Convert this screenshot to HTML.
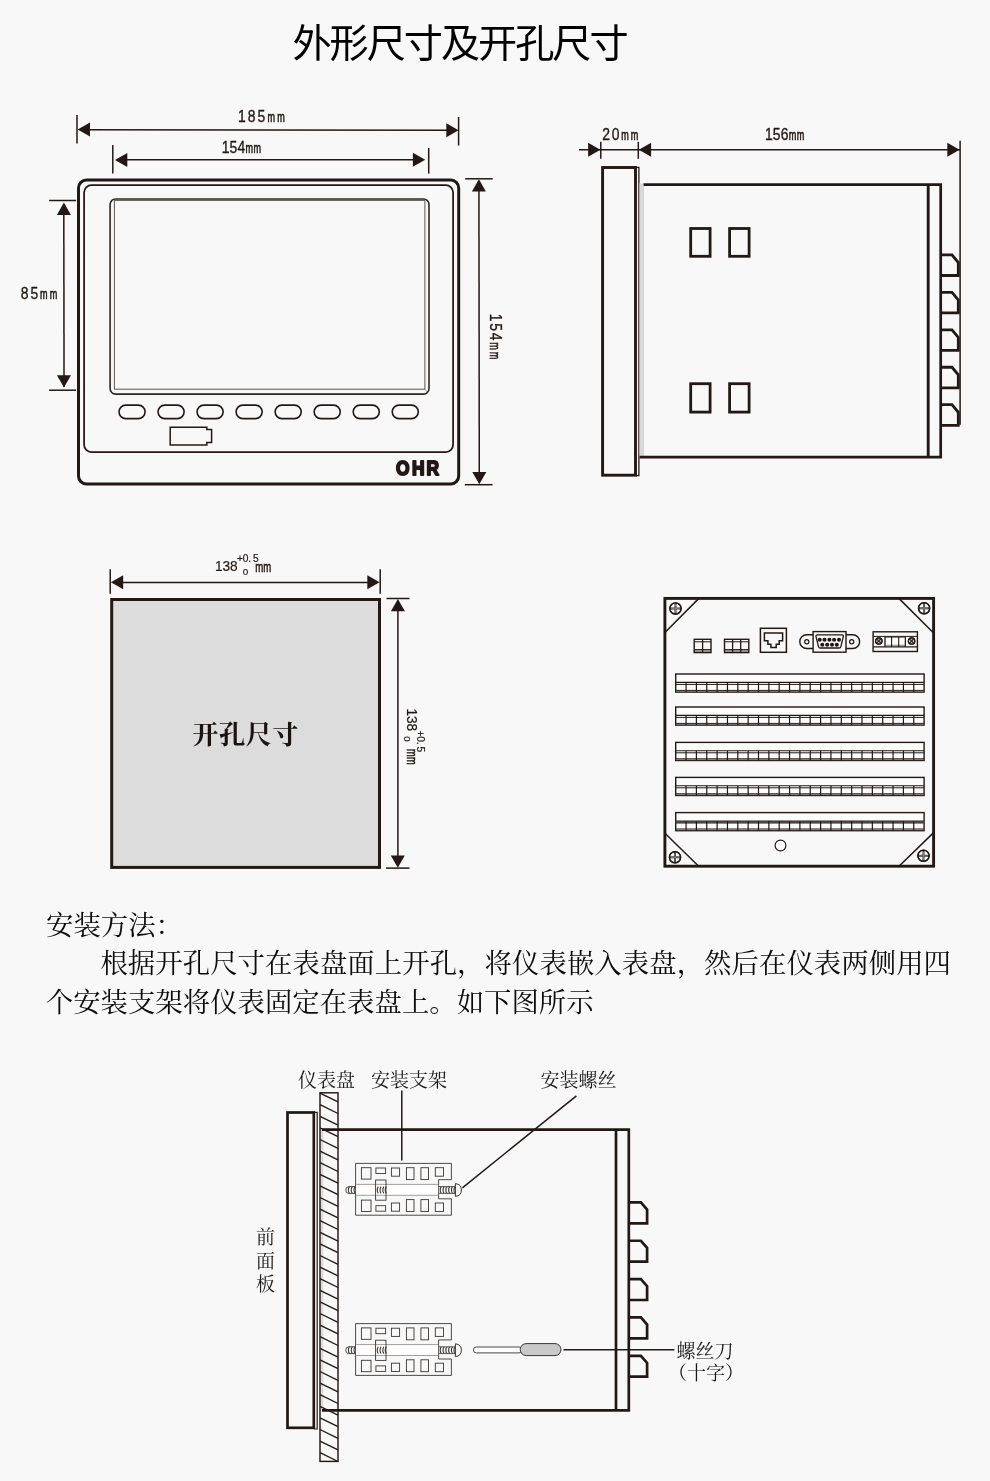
<!DOCTYPE html>
<html lang="zh-CN">
<head>
<meta charset="utf-8">
<title>外形尺寸及开孔尺寸</title>
<style>
html,body{margin:0;padding:0;background:#f8f8f8;}
body{width:990px;height:1481px;overflow:hidden;}
svg{display:block;will-change:transform;}
text{white-space:pre;}
</style>
</head>
<body>
<svg width="990" height="1481" viewBox="0 0 990 1481">
<rect x="0" y="0" width="990" height="1481" fill="#f8f8f8"/>
<text x="292.4" y="57.3" font-family="'Liberation Sans', 'Noto Sans CJK SC', sans-serif" font-size="39.2" font-weight="400" text-anchor="start" fill="#000" letter-spacing="-2.05" id="title">外形尺寸及开孔尺寸</text>
<line x1="77" y1="115" x2="77" y2="143.5" stroke="#231815" stroke-width="1.5"/>
<line x1="458.6" y1="117" x2="458.6" y2="145.5" stroke="#231815" stroke-width="1.5"/>
<line x1="80" y1="129.8" x2="456" y2="130.2" stroke="#231815" stroke-width="1.5"/>
<path d="M77.7 129.6 L90 122.6 L90 136.6 Z" fill="#231815" stroke="none"/>
<path d="M458.6 130.2 L446.3 123.2 L446.3 137.2 Z" fill="#231815" stroke="none"/>
<g transform="translate(261.4,122.1)" font-family="'Liberation Sans', sans-serif" text-anchor="middle" fill="#231815" stroke="#231815"><text transform="scale(0.88,1)" x="-22.16 -11.08 0" y="0" font-size="15.8" stroke-width="0.35">185</text><text transform="scale(0.62,1)" x="15.73 31.45" y="0" font-size="14.6" stroke-width="0.65">mm</text></g>
<line x1="112.8" y1="145" x2="112.8" y2="173.6" stroke="#231815" stroke-width="1.5"/>
<line x1="428.7" y1="148" x2="428.7" y2="173.6" stroke="#231815" stroke-width="1.5"/>
<line x1="117" y1="159.8" x2="423" y2="159.8" stroke="#231815" stroke-width="1.5"/>
<path d="M115 159.9 L127.3 152.9 L127.3 166.9 Z" fill="#231815" stroke="none"/>
<path d="M425.2 159.8 L412.9 152.8 L412.9 166.8 Z" fill="#231815" stroke="none"/>
<g transform="translate(241.4,152.7)" font-family="'Liberation Sans', sans-serif" text-anchor="middle" fill="#231815" stroke="#231815"><text transform="scale(0.88,1)" x="-18.07 -9.03 0" y="0" font-size="15.8" stroke-width="0.35">154</text><text transform="scale(0.62,1)" x="12.82 25.65" y="0" font-size="14.6" stroke-width="0.65">mm</text></g>
<rect x="78.5" y="180" width="380.2" height="304" rx="8" fill="none" stroke="#231815" stroke-width="3"/>
<rect x="84.1" y="185.2" width="369" height="266.8" rx="7.3" fill="none" stroke="#231815" stroke-width="1.75"/>
<rect x="110.1" y="199" width="318.9" height="195.1" rx="5.5" fill="none" stroke="#2e2623" stroke-width="1.6"/>
<path d="M114.4 200.4 L424.9 200.4 L424.9 389.2 L114.4 389.2 Z" fill="none" stroke="#4a4340" stroke-width="0.9" stroke-linejoin="miter"/>
<line x1="424.9" y1="389.2" x2="427.6" y2="392.4" stroke="#6a6360" stroke-width="0.7"/>
<rect x="119" y="405.1" width="26.1" height="13.5" rx="6.75" fill="none" stroke="#231815" stroke-width="1.6"/>
<rect x="158.03" y="405.1" width="26.1" height="13.5" rx="6.75" fill="none" stroke="#231815" stroke-width="1.6"/>
<rect x="197.06" y="405.1" width="26.1" height="13.5" rx="6.75" fill="none" stroke="#231815" stroke-width="1.6"/>
<rect x="236.09" y="405.1" width="26.1" height="13.5" rx="6.75" fill="none" stroke="#231815" stroke-width="1.6"/>
<rect x="275.12" y="405.1" width="26.1" height="13.5" rx="6.75" fill="none" stroke="#231815" stroke-width="1.6"/>
<rect x="314.15" y="405.1" width="26.1" height="13.5" rx="6.75" fill="none" stroke="#231815" stroke-width="1.6"/>
<rect x="353.18" y="405.1" width="26.1" height="13.5" rx="6.75" fill="none" stroke="#231815" stroke-width="1.6"/>
<rect x="392.21" y="405.1" width="26.1" height="13.5" rx="6.75" fill="none" stroke="#231815" stroke-width="1.6"/>
<path d="M170.2 427.2 L206.8 427.2 L206.8 429.4 L211.6 429.4 L211.6 442.6 L206.8 442.6 L206.8 445 L170.2 445 Z" fill="none" stroke="#231815" stroke-width="1.5" stroke-linejoin="miter"/>
<text transform="translate(417.3,475.3) scale(0.86,1)" x="-17 1.2 17.9" y="0" font-family="'Liberation Sans', sans-serif" font-size="20.2" font-weight="700" text-anchor="middle" fill="#231815" stroke="#231815" stroke-width="2" stroke-linejoin="round" id="ohr">OHR</text>
<line x1="49.1" y1="200.5" x2="76.1" y2="200.5" stroke="#231815" stroke-width="1.5"/>
<line x1="49.1" y1="390.2" x2="76.1" y2="390.2" stroke="#231815" stroke-width="1.5"/>
<line x1="63.8" y1="204" x2="64.05" y2="387" stroke="#231815" stroke-width="1.5"/>
<path d="M63.9 202.6 L56.9 214.9 L70.9 214.9 Z" fill="#231815" stroke="none"/>
<path d="M63.95 387.6 L56.95 375.3 L70.95 375.3 Z" fill="#231815" stroke="none"/>
<g transform="translate(39.1,298.5)" font-family="'Liberation Sans', sans-serif" text-anchor="middle" fill="#231815" stroke="#231815"><text transform="scale(0.88,1)" x="-16.36 -5.45" y="0" font-size="15.8" stroke-width="0.35">85</text><text transform="scale(0.62,1)" x="7.74 23.23" y="0" font-size="14.6" stroke-width="0.65">mm</text></g>
<line x1="465.2" y1="178.8" x2="492.7" y2="178.8" stroke="#231815" stroke-width="1.5"/>
<line x1="464.8" y1="484.7" x2="492.5" y2="484.7" stroke="#231815" stroke-width="1.5"/>
<line x1="478.9" y1="182" x2="479.3" y2="481" stroke="#231815" stroke-width="1.5"/>
<path d="M478.9 179.3 L471.9 191.6 L485.9 191.6 Z" fill="#231815" stroke="none"/>
<path d="M479.3 484.3 L472.3 472 L486.3 472 Z" fill="#231815" stroke="none"/>
<g transform="translate(489.6,336.6) rotate(90)" font-family="'Liberation Sans', sans-serif" text-anchor="middle" fill="#231815" stroke="#231815"><text transform="scale(0.88,1)" x="-21.59 -10.8 0" y="0" font-size="15.8" stroke-width="0.35">154</text><text transform="scale(0.62,1)" x="15.32 30.65" y="0" font-size="14.6" stroke-width="0.65">mm</text></g>
<line x1="579" y1="149.7" x2="960" y2="149.7" stroke="#231815" stroke-width="1.5"/>
<line x1="600.8" y1="141.8" x2="600.8" y2="158.8" stroke="#231815" stroke-width="1.5"/>
<line x1="638.3" y1="141.8" x2="638.3" y2="158.8" stroke="#231815" stroke-width="1.5"/>
<line x1="960.1" y1="140.8" x2="960.1" y2="424.7" stroke="#231815" stroke-width="1.5"/>
<path d="M600.4 149.7 L588.1 142.7 L588.1 156.7 Z" fill="#231815" stroke="none"/>
<path d="M638.8 149.7 L651.1 142.7 L651.1 156.7 Z" fill="#231815" stroke="none"/>
<path d="M959.6 149.7 L947.3 142.7 L947.3 156.7 Z" fill="#231815" stroke="none"/>
<g transform="translate(620.3,139.8)" font-family="'Liberation Sans', sans-serif" text-anchor="middle" fill="#231815" stroke="#231815"><text transform="scale(0.88,1)" x="-16.02 -5.34" y="0" font-size="15.8" stroke-width="0.35">20</text><text transform="scale(0.62,1)" x="7.58 22.74" y="0" font-size="14.6" stroke-width="0.65">mm</text></g>
<g transform="translate(784.6,140.3)" font-family="'Liberation Sans', sans-serif" text-anchor="middle" fill="#231815" stroke="#231815"><text transform="scale(0.88,1)" x="-17.95 -8.98 0" y="0" font-size="15.8" stroke-width="0.35">156</text><text transform="scale(0.62,1)" x="12.74 25.48" y="0" font-size="14.6" stroke-width="0.65">mm</text></g>
<rect x="602.6" y="167.5" width="32.9" height="307.7" fill="none" stroke="#231815" stroke-width="2.9"/>
<path d="M636 167.4 L638.9 167.4 L638.9 475.7 L636 475.7" fill="none" stroke="#231815" stroke-width="1.3" stroke-linejoin="miter"/>
<rect x="639.5" y="183.4" width="4.6" height="273" fill="#d8d8d8"/>
<path d="M643.6 184.7 L940.7 184.7 L940.7 457.2 L639.6 457.2" fill="none" stroke="#231815" stroke-width="2.7" stroke-linejoin="miter"/>
<line x1="928.2" y1="184.7" x2="928.2" y2="457.2" stroke="#231815" stroke-width="2.9"/>
<rect x="690.7" y="228.5" width="19.4" height="27.8" fill="none" stroke="#231815" stroke-width="2.8"/>
<rect x="690.7" y="383.7" width="19.4" height="28.4" fill="none" stroke="#231815" stroke-width="2.8"/>
<rect x="729.6" y="228.5" width="19.5" height="27.8" fill="none" stroke="#231815" stroke-width="2.8"/>
<rect x="729.6" y="383.7" width="19.5" height="28.4" fill="none" stroke="#231815" stroke-width="2.8"/>
<path d="M940.7 254.9 L952 254.9 L958.3 262.5 L958.3 275.5 L940.7 275.5" fill="none" stroke="#231815" stroke-width="2.8" stroke-linejoin="miter"/>
<path d="M940.7 292.35 L952 292.35 L958.3 299.95 L958.3 312.95 L940.7 312.95" fill="none" stroke="#231815" stroke-width="2.8" stroke-linejoin="miter"/>
<path d="M940.7 329.8 L952 329.8 L958.3 337.4 L958.3 350.4 L940.7 350.4" fill="none" stroke="#231815" stroke-width="2.8" stroke-linejoin="miter"/>
<path d="M940.7 367.25 L952 367.25 L958.3 374.85 L958.3 387.85 L940.7 387.85" fill="none" stroke="#231815" stroke-width="2.8" stroke-linejoin="miter"/>
<path d="M940.7 404.7 L952 404.7 L958.3 412.3 L958.3 425.3 L940.7 425.3" fill="none" stroke="#231815" stroke-width="2.8" stroke-linejoin="miter"/>
<rect x="111.7" y="599.5" width="267.8" height="267.9" fill="#dcdcdc" stroke="#231815" stroke-width="3"/>
<line x1="110.2" y1="569.3" x2="110.2" y2="593.8" stroke="#231815" stroke-width="1.5"/>
<line x1="380.2" y1="569.3" x2="380.2" y2="593.8" stroke="#231815" stroke-width="1.5"/>
<line x1="113" y1="582.6" x2="377" y2="582.6" stroke="#231815" stroke-width="1.5"/>
<path d="M110.9 582.3 L123.2 575.3 L123.2 589.3 Z" fill="#231815" stroke="none"/>
<path d="M379.6 582.3 L367.3 575.3 L367.3 589.3 Z" fill="#231815" stroke="none"/>
<text x="245.6" y="743.8" font-family="'Liberation Serif', 'Noto Serif CJK SC', serif" font-size="26.3" font-weight="700" text-anchor="middle" fill="#1a1311" letter-spacing="0.4" id="kk">开孔尺寸</text>
<g transform="translate(215.8,571.4)" font-family="'Liberation Sans', sans-serif" fill="#231815" stroke="#231815" stroke-width="0.2"><text transform="scale(0.9,1)" x="-1" y="0" font-size="15.2">138</text><text x="24.1 29.9 33.8 40.1" y="-9.7" font-size="10.2" text-anchor="middle">+0.5</text><text x="29.7" y="3.3" font-size="9.8" text-anchor="middle">0</text><text transform="scale(0.62,1)" x="70 82.9" y="0.5" font-size="15.5" text-anchor="middle" stroke-width="0.6">mm</text></g>
<line x1="386.5" y1="598.5" x2="409.5" y2="598.5" stroke="#231815" stroke-width="1.5"/>
<line x1="386" y1="868.1" x2="409.5" y2="868.1" stroke="#231815" stroke-width="1.5"/>
<line x1="397.9" y1="602" x2="397.9" y2="864" stroke="#231815" stroke-width="1.5"/>
<path d="M397.9 598.9 L390.9 611.2 L404.9 611.2 Z" fill="#231815" stroke="none"/>
<path d="M397.8 867.7 L390.8 855.4 L404.8 855.4 Z" fill="#231815" stroke="none"/>
<g transform="translate(407.1,709.3) rotate(90)" font-family="'Liberation Sans', sans-serif" fill="#231815" stroke="#231815" stroke-width="0.2"><text transform="scale(0.9,1)" x="-1" y="0" font-size="15.2">138</text><text x="24.1 29.9 33.8 40.1" y="-9.7" font-size="10.2" text-anchor="middle">+0.5</text><text x="29.7" y="3.3" font-size="9.8" text-anchor="middle">0</text><text transform="scale(0.62,1)" x="70 82.9" y="0.5" font-size="15.5" text-anchor="middle" stroke-width="0.6">mm</text></g>
<rect x="664.9" y="598.4" width="268.7" height="267.8" fill="none" stroke="#231815" stroke-width="2.9"/>
<line x1="698.9" y1="598.4" x2="665.2" y2="632.2" stroke="#231815" stroke-width="1.5"/>
<line x1="898.9" y1="598.4" x2="933.6" y2="633" stroke="#231815" stroke-width="1.5"/>
<line x1="665.2" y1="833.5" x2="698.7" y2="866.2" stroke="#231815" stroke-width="1.5"/>
<line x1="933.6" y1="832.6" x2="899" y2="866.2" stroke="#231815" stroke-width="1.5"/>
<circle cx="675.5" cy="608.5" r="5.6" fill="none" stroke="#231815" stroke-width="1.3"/>
<line x1="669.9" y1="608.5" x2="681.1" y2="608.5" stroke="#3a3532" stroke-width="2"/>
<line x1="675.5" y1="602.9" x2="675.5" y2="614.1" stroke="#3a3532" stroke-width="2"/>
<line x1="671.1" y1="608.5" x2="679.9" y2="608.5" stroke="#c4c4c4" stroke-width="0.45"/>
<line x1="675.5" y1="604.1" x2="675.5" y2="612.9" stroke="#c4c4c4" stroke-width="0.45"/>
<circle cx="675.5" cy="608.5" r="5.6" fill="none" stroke="#231815" stroke-width="1.4"/>
<circle cx="924.1" cy="608.3" r="5.6" fill="none" stroke="#231815" stroke-width="1.3"/>
<line x1="918.5" y1="608.3" x2="929.7" y2="608.3" stroke="#3a3532" stroke-width="2"/>
<line x1="924.1" y1="602.7" x2="924.1" y2="613.9" stroke="#3a3532" stroke-width="2"/>
<line x1="919.7" y1="608.3" x2="928.5" y2="608.3" stroke="#c4c4c4" stroke-width="0.45"/>
<line x1="924.1" y1="603.9" x2="924.1" y2="612.7" stroke="#c4c4c4" stroke-width="0.45"/>
<circle cx="924.1" cy="608.3" r="5.6" fill="none" stroke="#231815" stroke-width="1.4"/>
<circle cx="675" cy="857.3" r="5.6" fill="none" stroke="#231815" stroke-width="1.3"/>
<line x1="669.4" y1="857.3" x2="680.6" y2="857.3" stroke="#3a3532" stroke-width="2"/>
<line x1="675" y1="851.7" x2="675" y2="862.9" stroke="#3a3532" stroke-width="2"/>
<line x1="670.6" y1="857.3" x2="679.4" y2="857.3" stroke="#c4c4c4" stroke-width="0.45"/>
<line x1="675" y1="852.9" x2="675" y2="861.7" stroke="#c4c4c4" stroke-width="0.45"/>
<circle cx="675" cy="857.3" r="5.6" fill="none" stroke="#231815" stroke-width="1.4"/>
<circle cx="923.5" cy="855.8" r="5.6" fill="none" stroke="#231815" stroke-width="1.3"/>
<line x1="917.9" y1="855.8" x2="929.1" y2="855.8" stroke="#3a3532" stroke-width="2"/>
<line x1="923.5" y1="850.2" x2="923.5" y2="861.4" stroke="#3a3532" stroke-width="2"/>
<line x1="919.1" y1="855.8" x2="927.9" y2="855.8" stroke="#c4c4c4" stroke-width="0.45"/>
<line x1="923.5" y1="851.4" x2="923.5" y2="860.2" stroke="#c4c4c4" stroke-width="0.45"/>
<circle cx="923.5" cy="855.8" r="5.6" fill="none" stroke="#231815" stroke-width="1.4"/>
<rect x="694.2" y="649.6" width="16.8" height="3" fill="#a09b99"/>
<rect x="694.2" y="639.3" width="16.8" height="13.3" fill="none" stroke="#231815" stroke-width="1.4"/>
<line x1="694.2" y1="641.8" x2="711" y2="641.8" stroke="#231815" stroke-width="1.0"/>
<line x1="694.2" y1="649.6" x2="711" y2="649.6" stroke="#231815" stroke-width="1.0"/>
<line x1="702.6" y1="639.3" x2="702.6" y2="652.6" stroke="#231815" stroke-width="1.3"/>
<rect x="724.5" y="649.6" width="24.3" height="3" fill="#a09b99"/>
<rect x="724.5" y="639.3" width="24.3" height="13.3" fill="none" stroke="#231815" stroke-width="1.4"/>
<line x1="724.5" y1="641.8" x2="748.8" y2="641.8" stroke="#231815" stroke-width="1.0"/>
<line x1="724.5" y1="649.6" x2="748.8" y2="649.6" stroke="#231815" stroke-width="1.0"/>
<line x1="732.6" y1="639.3" x2="732.6" y2="652.6" stroke="#231815" stroke-width="1.3"/>
<line x1="740.7" y1="639.3" x2="740.7" y2="652.6" stroke="#231815" stroke-width="1.3"/>
<rect x="760.4" y="628.3" width="26" height="24" fill="none" stroke="#231815" stroke-width="1.5"/>
<path d="M764.4 632.9 L782.6 632.9 L782.6 640.8 L779.2 640.8 L779.2 644.2 L776.2 644.2 L776.2 647.6 L770.9 647.6 L770.9 644.2 L767.9 644.2 L767.9 640.8 L764.4 640.8 Z" fill="none" stroke="#231815" stroke-width="1.5" stroke-linejoin="miter"/>
<rect x="799.8" y="634.8" width="59.8" height="13.7" rx="6.85" fill="none" stroke="#231815" stroke-width="1.4"/>
<rect x="813.1" y="631.6" width="32.9" height="20.6" fill="#f8f8f8" stroke="#231815" stroke-width="1.4"/>
<path d="M817.4 634.9 L841.9 634.9 Q843.7 634.9 843.3 636.6 L840.9 646.6 Q840.5 648 839.1 648 L820.3 648 Q818.9 648 818.5 646.6 L816 636.6 Q815.6 634.9 817.4 634.9 Z" fill="none" stroke="#231815" stroke-width="1.3"/>
<circle cx="819.7" cy="639.7" r="2.05" fill="#231815"/>
<circle cx="824.5" cy="639.7" r="2.05" fill="#231815"/>
<circle cx="829.4" cy="639.7" r="2.05" fill="#231815"/>
<circle cx="834.1" cy="639.7" r="2.05" fill="#231815"/>
<circle cx="839" cy="639.7" r="2.05" fill="#231815"/>
<circle cx="822.3" cy="644.7" r="2.05" fill="#231815"/>
<circle cx="827.2" cy="644.7" r="2.05" fill="#231815"/>
<circle cx="832" cy="644.7" r="2.05" fill="#231815"/>
<circle cx="836.8" cy="644.7" r="2.05" fill="#231815"/>
<circle cx="806.8" cy="641.7" r="2.1" fill="none" stroke="#231815" stroke-width="1.2"/>
<circle cx="851.7" cy="641.7" r="2.1" fill="none" stroke="#231815" stroke-width="1.2"/>
<rect x="873.1" y="631.8" width="44.3" height="19.7" fill="none" stroke="#231815" stroke-width="1.4"/>
<line x1="873.1" y1="636.4" x2="917.4" y2="636.4" stroke="#231815" stroke-width="1.0"/>
<line x1="873.1" y1="646.9" x2="917.4" y2="646.9" stroke="#231815" stroke-width="1.4"/>
<rect x="885" y="637.6" width="20.3" height="7.6" fill="#fff" stroke="#6a6562" stroke-width="0.8"/>
<line x1="885" y1="636.4" x2="885" y2="646.9" stroke="#231815" stroke-width="1.1"/>
<line x1="891.6" y1="636.4" x2="891.6" y2="646.9" stroke="#231815" stroke-width="1.1"/>
<line x1="898.7" y1="636.4" x2="898.7" y2="646.9" stroke="#231815" stroke-width="1.1"/>
<line x1="905.3" y1="636.4" x2="905.3" y2="646.9" stroke="#231815" stroke-width="1.1"/>
<circle cx="878.8" cy="641" r="3.2" fill="#e8e8e8" stroke="#231815" stroke-width="1.2"/>
<line x1="876.6" y1="638.8" x2="881" y2="643.2" stroke="#3a3532" stroke-width="1.5"/>
<line x1="876.6" y1="643.2" x2="881" y2="638.8" stroke="#3a3532" stroke-width="1.5"/>
<circle cx="878.8" cy="641" r="3.2" fill="none" stroke="#231815" stroke-width="1.2"/>
<circle cx="911.6" cy="641" r="3.2" fill="#e8e8e8" stroke="#231815" stroke-width="1.2"/>
<line x1="909.4" y1="638.8" x2="913.8" y2="643.2" stroke="#3a3532" stroke-width="1.5"/>
<line x1="909.4" y1="643.2" x2="913.8" y2="638.8" stroke="#3a3532" stroke-width="1.5"/>
<circle cx="911.6" cy="641" r="3.2" fill="none" stroke="#231815" stroke-width="1.2"/>
<rect x="675.7" y="674" width="248.4" height="18.1" fill="#fcfcfc" stroke="#231815" stroke-width="1.4"/>
<line x1="675.7" y1="682.4" x2="924.1" y2="682.4" stroke="#231815" stroke-width="1.1"/>
<line x1="675.7" y1="684.4" x2="924.1" y2="684.4" stroke="#231815" stroke-width="1"/>
<line x1="675.7" y1="690.4" x2="924.1" y2="690.4" stroke="#231815" stroke-width="1"/>
<line x1="675.7" y1="691.3" x2="924.1" y2="691.3" stroke="#6a6562" stroke-width="0.8"/>
<line x1="686.05" y1="682.4" x2="686.05" y2="692.1" stroke="#231815" stroke-width="1.2"/>
<line x1="696.4" y1="682.4" x2="696.4" y2="692.1" stroke="#231815" stroke-width="1.2"/>
<line x1="706.75" y1="682.4" x2="706.75" y2="692.1" stroke="#231815" stroke-width="1.2"/>
<line x1="717.1" y1="682.4" x2="717.1" y2="692.1" stroke="#231815" stroke-width="1.2"/>
<line x1="727.45" y1="682.4" x2="727.45" y2="692.1" stroke="#231815" stroke-width="1.2"/>
<line x1="737.8" y1="682.4" x2="737.8" y2="692.1" stroke="#231815" stroke-width="1.2"/>
<line x1="748.15" y1="682.4" x2="748.15" y2="692.1" stroke="#231815" stroke-width="1.2"/>
<line x1="758.5" y1="682.4" x2="758.5" y2="692.1" stroke="#231815" stroke-width="1.2"/>
<line x1="768.85" y1="682.4" x2="768.85" y2="692.1" stroke="#231815" stroke-width="1.2"/>
<line x1="779.2" y1="682.4" x2="779.2" y2="692.1" stroke="#231815" stroke-width="1.2"/>
<line x1="789.55" y1="682.4" x2="789.55" y2="692.1" stroke="#231815" stroke-width="1.2"/>
<line x1="799.9" y1="682.4" x2="799.9" y2="692.1" stroke="#231815" stroke-width="1.2"/>
<line x1="810.25" y1="682.4" x2="810.25" y2="692.1" stroke="#231815" stroke-width="1.2"/>
<line x1="820.6" y1="682.4" x2="820.6" y2="692.1" stroke="#231815" stroke-width="1.2"/>
<line x1="830.95" y1="682.4" x2="830.95" y2="692.1" stroke="#231815" stroke-width="1.2"/>
<line x1="841.3" y1="682.4" x2="841.3" y2="692.1" stroke="#231815" stroke-width="1.2"/>
<line x1="851.65" y1="682.4" x2="851.65" y2="692.1" stroke="#231815" stroke-width="1.2"/>
<line x1="862" y1="682.4" x2="862" y2="692.1" stroke="#231815" stroke-width="1.2"/>
<line x1="872.35" y1="682.4" x2="872.35" y2="692.1" stroke="#231815" stroke-width="1.2"/>
<line x1="882.7" y1="682.4" x2="882.7" y2="692.1" stroke="#231815" stroke-width="1.2"/>
<line x1="893.05" y1="682.4" x2="893.05" y2="692.1" stroke="#231815" stroke-width="1.2"/>
<line x1="903.4" y1="682.4" x2="903.4" y2="692.1" stroke="#231815" stroke-width="1.2"/>
<line x1="913.75" y1="682.4" x2="913.75" y2="692.1" stroke="#231815" stroke-width="1.2"/>
<rect x="675.7" y="707" width="248.4" height="18.1" fill="#fcfcfc" stroke="#231815" stroke-width="1.4"/>
<line x1="675.7" y1="715.4" x2="924.1" y2="715.4" stroke="#231815" stroke-width="1.1"/>
<line x1="675.7" y1="717.4" x2="924.1" y2="717.4" stroke="#231815" stroke-width="1"/>
<line x1="675.7" y1="723.4" x2="924.1" y2="723.4" stroke="#231815" stroke-width="1"/>
<line x1="675.7" y1="724.3" x2="924.1" y2="724.3" stroke="#6a6562" stroke-width="0.8"/>
<line x1="686.05" y1="715.4" x2="686.05" y2="725.1" stroke="#231815" stroke-width="1.2"/>
<line x1="696.4" y1="715.4" x2="696.4" y2="725.1" stroke="#231815" stroke-width="1.2"/>
<line x1="706.75" y1="715.4" x2="706.75" y2="725.1" stroke="#231815" stroke-width="1.2"/>
<line x1="717.1" y1="715.4" x2="717.1" y2="725.1" stroke="#231815" stroke-width="1.2"/>
<line x1="727.45" y1="715.4" x2="727.45" y2="725.1" stroke="#231815" stroke-width="1.2"/>
<line x1="737.8" y1="715.4" x2="737.8" y2="725.1" stroke="#231815" stroke-width="1.2"/>
<line x1="748.15" y1="715.4" x2="748.15" y2="725.1" stroke="#231815" stroke-width="1.2"/>
<line x1="758.5" y1="715.4" x2="758.5" y2="725.1" stroke="#231815" stroke-width="1.2"/>
<line x1="768.85" y1="715.4" x2="768.85" y2="725.1" stroke="#231815" stroke-width="1.2"/>
<line x1="779.2" y1="715.4" x2="779.2" y2="725.1" stroke="#231815" stroke-width="1.2"/>
<line x1="789.55" y1="715.4" x2="789.55" y2="725.1" stroke="#231815" stroke-width="1.2"/>
<line x1="799.9" y1="715.4" x2="799.9" y2="725.1" stroke="#231815" stroke-width="1.2"/>
<line x1="810.25" y1="715.4" x2="810.25" y2="725.1" stroke="#231815" stroke-width="1.2"/>
<line x1="820.6" y1="715.4" x2="820.6" y2="725.1" stroke="#231815" stroke-width="1.2"/>
<line x1="830.95" y1="715.4" x2="830.95" y2="725.1" stroke="#231815" stroke-width="1.2"/>
<line x1="841.3" y1="715.4" x2="841.3" y2="725.1" stroke="#231815" stroke-width="1.2"/>
<line x1="851.65" y1="715.4" x2="851.65" y2="725.1" stroke="#231815" stroke-width="1.2"/>
<line x1="862" y1="715.4" x2="862" y2="725.1" stroke="#231815" stroke-width="1.2"/>
<line x1="872.35" y1="715.4" x2="872.35" y2="725.1" stroke="#231815" stroke-width="1.2"/>
<line x1="882.7" y1="715.4" x2="882.7" y2="725.1" stroke="#231815" stroke-width="1.2"/>
<line x1="893.05" y1="715.4" x2="893.05" y2="725.1" stroke="#231815" stroke-width="1.2"/>
<line x1="903.4" y1="715.4" x2="903.4" y2="725.1" stroke="#231815" stroke-width="1.2"/>
<line x1="913.75" y1="715.4" x2="913.75" y2="725.1" stroke="#231815" stroke-width="1.2"/>
<rect x="675.7" y="742.4" width="248.4" height="18.1" fill="#fcfcfc" stroke="#231815" stroke-width="1.4"/>
<line x1="675.7" y1="750.8" x2="924.1" y2="750.8" stroke="#231815" stroke-width="1.1"/>
<line x1="675.7" y1="752.8" x2="924.1" y2="752.8" stroke="#231815" stroke-width="1"/>
<line x1="675.7" y1="758.8" x2="924.1" y2="758.8" stroke="#231815" stroke-width="1"/>
<line x1="675.7" y1="759.7" x2="924.1" y2="759.7" stroke="#6a6562" stroke-width="0.8"/>
<line x1="686.05" y1="750.8" x2="686.05" y2="760.5" stroke="#231815" stroke-width="1.2"/>
<line x1="696.4" y1="750.8" x2="696.4" y2="760.5" stroke="#231815" stroke-width="1.2"/>
<line x1="706.75" y1="750.8" x2="706.75" y2="760.5" stroke="#231815" stroke-width="1.2"/>
<line x1="717.1" y1="750.8" x2="717.1" y2="760.5" stroke="#231815" stroke-width="1.2"/>
<line x1="727.45" y1="750.8" x2="727.45" y2="760.5" stroke="#231815" stroke-width="1.2"/>
<line x1="737.8" y1="750.8" x2="737.8" y2="760.5" stroke="#231815" stroke-width="1.2"/>
<line x1="748.15" y1="750.8" x2="748.15" y2="760.5" stroke="#231815" stroke-width="1.2"/>
<line x1="758.5" y1="750.8" x2="758.5" y2="760.5" stroke="#231815" stroke-width="1.2"/>
<line x1="768.85" y1="750.8" x2="768.85" y2="760.5" stroke="#231815" stroke-width="1.2"/>
<line x1="779.2" y1="750.8" x2="779.2" y2="760.5" stroke="#231815" stroke-width="1.2"/>
<line x1="789.55" y1="750.8" x2="789.55" y2="760.5" stroke="#231815" stroke-width="1.2"/>
<line x1="799.9" y1="750.8" x2="799.9" y2="760.5" stroke="#231815" stroke-width="1.2"/>
<line x1="810.25" y1="750.8" x2="810.25" y2="760.5" stroke="#231815" stroke-width="1.2"/>
<line x1="820.6" y1="750.8" x2="820.6" y2="760.5" stroke="#231815" stroke-width="1.2"/>
<line x1="830.95" y1="750.8" x2="830.95" y2="760.5" stroke="#231815" stroke-width="1.2"/>
<line x1="841.3" y1="750.8" x2="841.3" y2="760.5" stroke="#231815" stroke-width="1.2"/>
<line x1="851.65" y1="750.8" x2="851.65" y2="760.5" stroke="#231815" stroke-width="1.2"/>
<line x1="862" y1="750.8" x2="862" y2="760.5" stroke="#231815" stroke-width="1.2"/>
<line x1="872.35" y1="750.8" x2="872.35" y2="760.5" stroke="#231815" stroke-width="1.2"/>
<line x1="882.7" y1="750.8" x2="882.7" y2="760.5" stroke="#231815" stroke-width="1.2"/>
<line x1="893.05" y1="750.8" x2="893.05" y2="760.5" stroke="#231815" stroke-width="1.2"/>
<line x1="903.4" y1="750.8" x2="903.4" y2="760.5" stroke="#231815" stroke-width="1.2"/>
<line x1="913.75" y1="750.8" x2="913.75" y2="760.5" stroke="#231815" stroke-width="1.2"/>
<rect x="675.7" y="777.4" width="248.4" height="18.1" fill="#fcfcfc" stroke="#231815" stroke-width="1.4"/>
<line x1="675.7" y1="785.8" x2="924.1" y2="785.8" stroke="#231815" stroke-width="1.1"/>
<line x1="675.7" y1="787.8" x2="924.1" y2="787.8" stroke="#231815" stroke-width="1"/>
<line x1="675.7" y1="793.8" x2="924.1" y2="793.8" stroke="#231815" stroke-width="1"/>
<line x1="675.7" y1="794.7" x2="924.1" y2="794.7" stroke="#6a6562" stroke-width="0.8"/>
<line x1="686.05" y1="785.8" x2="686.05" y2="795.5" stroke="#231815" stroke-width="1.2"/>
<line x1="696.4" y1="785.8" x2="696.4" y2="795.5" stroke="#231815" stroke-width="1.2"/>
<line x1="706.75" y1="785.8" x2="706.75" y2="795.5" stroke="#231815" stroke-width="1.2"/>
<line x1="717.1" y1="785.8" x2="717.1" y2="795.5" stroke="#231815" stroke-width="1.2"/>
<line x1="727.45" y1="785.8" x2="727.45" y2="795.5" stroke="#231815" stroke-width="1.2"/>
<line x1="737.8" y1="785.8" x2="737.8" y2="795.5" stroke="#231815" stroke-width="1.2"/>
<line x1="748.15" y1="785.8" x2="748.15" y2="795.5" stroke="#231815" stroke-width="1.2"/>
<line x1="758.5" y1="785.8" x2="758.5" y2="795.5" stroke="#231815" stroke-width="1.2"/>
<line x1="768.85" y1="785.8" x2="768.85" y2="795.5" stroke="#231815" stroke-width="1.2"/>
<line x1="779.2" y1="785.8" x2="779.2" y2="795.5" stroke="#231815" stroke-width="1.2"/>
<line x1="789.55" y1="785.8" x2="789.55" y2="795.5" stroke="#231815" stroke-width="1.2"/>
<line x1="799.9" y1="785.8" x2="799.9" y2="795.5" stroke="#231815" stroke-width="1.2"/>
<line x1="810.25" y1="785.8" x2="810.25" y2="795.5" stroke="#231815" stroke-width="1.2"/>
<line x1="820.6" y1="785.8" x2="820.6" y2="795.5" stroke="#231815" stroke-width="1.2"/>
<line x1="830.95" y1="785.8" x2="830.95" y2="795.5" stroke="#231815" stroke-width="1.2"/>
<line x1="841.3" y1="785.8" x2="841.3" y2="795.5" stroke="#231815" stroke-width="1.2"/>
<line x1="851.65" y1="785.8" x2="851.65" y2="795.5" stroke="#231815" stroke-width="1.2"/>
<line x1="862" y1="785.8" x2="862" y2="795.5" stroke="#231815" stroke-width="1.2"/>
<line x1="872.35" y1="785.8" x2="872.35" y2="795.5" stroke="#231815" stroke-width="1.2"/>
<line x1="882.7" y1="785.8" x2="882.7" y2="795.5" stroke="#231815" stroke-width="1.2"/>
<line x1="893.05" y1="785.8" x2="893.05" y2="795.5" stroke="#231815" stroke-width="1.2"/>
<line x1="903.4" y1="785.8" x2="903.4" y2="795.5" stroke="#231815" stroke-width="1.2"/>
<line x1="913.75" y1="785.8" x2="913.75" y2="795.5" stroke="#231815" stroke-width="1.2"/>
<rect x="675.7" y="812.6" width="248.4" height="18.1" fill="#fcfcfc" stroke="#231815" stroke-width="1.4"/>
<rect x="675.7" y="820.4" width="248.4" height="3.2" fill="#4a4542"/>
<line x1="675.7" y1="829" x2="924.1" y2="829" stroke="#231815" stroke-width="1"/>
<line x1="675.7" y1="829.9" x2="924.1" y2="829.9" stroke="#6a6562" stroke-width="0.8"/>
<line x1="686.05" y1="821" x2="686.05" y2="830.7" stroke="#231815" stroke-width="1.2"/>
<line x1="696.4" y1="821" x2="696.4" y2="830.7" stroke="#231815" stroke-width="1.2"/>
<line x1="706.75" y1="821" x2="706.75" y2="830.7" stroke="#231815" stroke-width="1.2"/>
<line x1="717.1" y1="821" x2="717.1" y2="830.7" stroke="#231815" stroke-width="1.2"/>
<line x1="727.45" y1="821" x2="727.45" y2="830.7" stroke="#231815" stroke-width="1.2"/>
<line x1="737.8" y1="821" x2="737.8" y2="830.7" stroke="#231815" stroke-width="1.2"/>
<line x1="748.15" y1="821" x2="748.15" y2="830.7" stroke="#231815" stroke-width="1.2"/>
<line x1="758.5" y1="821" x2="758.5" y2="830.7" stroke="#231815" stroke-width="1.2"/>
<line x1="768.85" y1="821" x2="768.85" y2="830.7" stroke="#231815" stroke-width="1.2"/>
<line x1="779.2" y1="821" x2="779.2" y2="830.7" stroke="#231815" stroke-width="1.2"/>
<line x1="789.55" y1="821" x2="789.55" y2="830.7" stroke="#231815" stroke-width="1.2"/>
<line x1="799.9" y1="821" x2="799.9" y2="830.7" stroke="#231815" stroke-width="1.2"/>
<line x1="810.25" y1="821" x2="810.25" y2="830.7" stroke="#231815" stroke-width="1.2"/>
<line x1="820.6" y1="821" x2="820.6" y2="830.7" stroke="#231815" stroke-width="1.2"/>
<line x1="830.95" y1="821" x2="830.95" y2="830.7" stroke="#231815" stroke-width="1.2"/>
<line x1="841.3" y1="821" x2="841.3" y2="830.7" stroke="#231815" stroke-width="1.2"/>
<line x1="851.65" y1="821" x2="851.65" y2="830.7" stroke="#231815" stroke-width="1.2"/>
<line x1="862" y1="821" x2="862" y2="830.7" stroke="#231815" stroke-width="1.2"/>
<line x1="872.35" y1="821" x2="872.35" y2="830.7" stroke="#231815" stroke-width="1.2"/>
<line x1="882.7" y1="821" x2="882.7" y2="830.7" stroke="#231815" stroke-width="1.2"/>
<line x1="893.05" y1="821" x2="893.05" y2="830.7" stroke="#231815" stroke-width="1.2"/>
<line x1="903.4" y1="821" x2="903.4" y2="830.7" stroke="#231815" stroke-width="1.2"/>
<line x1="913.75" y1="821" x2="913.75" y2="830.7" stroke="#231815" stroke-width="1.2"/>
<circle cx="780.5" cy="845.5" r="5.4" fill="#fff" stroke="#231815" stroke-width="1.2"/>
<text x="46" y="934.6" font-family="'Liberation Serif', 'Noto Serif CJK SC', serif" font-size="27.4" text-anchor="start" fill="#0c0c0c" id="t1">安装方法：</text>
<text x="100.4" y="973.4" font-family="'Liberation Serif', 'Noto Serif CJK SC', serif" font-size="27.4" text-anchor="start" fill="#0c0c0c" letter-spacing="0.05" id="t2">根据开孔尺寸在表盘面上开孔，将仪表嵌入表盘，然后在仪表两侧用四</text>
<text x="45.8" y="1011.6" font-family="'Liberation Serif', 'Noto Serif CJK SC', serif" font-size="27.4" text-anchor="start" fill="#0c0c0c" id="t3">个安装支架将仪表固定在表盘上。如下图所示</text>
<rect x="320.6" y="1130" width="2.7" height="280" fill="#dcdcdc"/>
<line x1="320" y1="1093.1" x2="338" y2="1101.9" stroke="#231815" stroke-width="1.35"/>
<line x1="320" y1="1104.7" x2="338" y2="1113.5" stroke="#231815" stroke-width="1.35"/>
<line x1="320" y1="1116.3" x2="338" y2="1125.1" stroke="#231815" stroke-width="1.35"/>
<line x1="320" y1="1127.9" x2="338" y2="1136.7" stroke="#231815" stroke-width="1.35"/>
<line x1="320" y1="1139.5" x2="338" y2="1148.3" stroke="#231815" stroke-width="1.35"/>
<line x1="320" y1="1151.1" x2="338" y2="1159.9" stroke="#231815" stroke-width="1.35"/>
<line x1="320" y1="1162.7" x2="338" y2="1171.5" stroke="#231815" stroke-width="1.35"/>
<line x1="320" y1="1174.3" x2="338" y2="1183.1" stroke="#231815" stroke-width="1.35"/>
<line x1="320" y1="1185.9" x2="338" y2="1194.7" stroke="#231815" stroke-width="1.35"/>
<line x1="320" y1="1197.5" x2="338" y2="1206.3" stroke="#231815" stroke-width="1.35"/>
<line x1="320" y1="1209.1" x2="338" y2="1217.9" stroke="#231815" stroke-width="1.35"/>
<line x1="320" y1="1220.7" x2="338" y2="1229.5" stroke="#231815" stroke-width="1.35"/>
<line x1="320" y1="1232.3" x2="338" y2="1241.1" stroke="#231815" stroke-width="1.35"/>
<line x1="320" y1="1243.9" x2="338" y2="1252.7" stroke="#231815" stroke-width="1.35"/>
<line x1="320" y1="1255.5" x2="338" y2="1264.3" stroke="#231815" stroke-width="1.35"/>
<line x1="320" y1="1267.1" x2="338" y2="1275.9" stroke="#231815" stroke-width="1.35"/>
<line x1="320" y1="1278.7" x2="338" y2="1287.5" stroke="#231815" stroke-width="1.35"/>
<line x1="320" y1="1290.3" x2="338" y2="1299.1" stroke="#231815" stroke-width="1.35"/>
<line x1="320" y1="1301.9" x2="338" y2="1310.7" stroke="#231815" stroke-width="1.35"/>
<line x1="320" y1="1313.5" x2="338" y2="1322.3" stroke="#231815" stroke-width="1.35"/>
<line x1="320" y1="1325.1" x2="338" y2="1333.9" stroke="#231815" stroke-width="1.35"/>
<line x1="320" y1="1336.7" x2="338" y2="1345.5" stroke="#231815" stroke-width="1.35"/>
<line x1="320" y1="1348.3" x2="338" y2="1357.1" stroke="#231815" stroke-width="1.35"/>
<line x1="320" y1="1359.9" x2="338" y2="1368.7" stroke="#231815" stroke-width="1.35"/>
<line x1="320" y1="1371.5" x2="338" y2="1380.3" stroke="#231815" stroke-width="1.35"/>
<line x1="320" y1="1383.1" x2="338" y2="1391.9" stroke="#231815" stroke-width="1.35"/>
<line x1="320" y1="1394.7" x2="338" y2="1403.5" stroke="#231815" stroke-width="1.35"/>
<line x1="320" y1="1406.3" x2="338" y2="1415.1" stroke="#231815" stroke-width="1.35"/>
<line x1="320" y1="1417.9" x2="338" y2="1426.7" stroke="#231815" stroke-width="1.35"/>
<line x1="320" y1="1429.5" x2="338" y2="1438.3" stroke="#231815" stroke-width="1.35"/>
<line x1="320" y1="1441.1" x2="338" y2="1449.9" stroke="#231815" stroke-width="1.35"/>
<line x1="320" y1="1452.7" x2="338" y2="1461.5" stroke="#231815" stroke-width="1.35"/>
<rect x="320" y="1092.8" width="18" height="368.6" fill="none" stroke="#231815" stroke-width="1.45"/>
<rect x="287.5" y="1112.5" width="26.3" height="315.3" fill="none" stroke="#231815" stroke-width="2.7"/>
<path d="M314 1112.4 L317.2 1112.4 L317.2 1429 L314 1429" fill="none" stroke="#231815" stroke-width="1.2" stroke-linejoin="miter"/>
<path d="M322 1129.7 L628.8 1129.7 L628.8 1410.4 L322 1410.4" fill="none" stroke="#231815" stroke-width="2.7" stroke-linejoin="miter"/>
<line x1="616" y1="1129.7" x2="616" y2="1410.4" stroke="#231815" stroke-width="2.7"/>
<path d="M628.8 1202.4 L640.9 1202.4 L647.1 1209.5 L647.1 1223.3 L628.8 1223.3" fill="none" stroke="#231815" stroke-width="2.7" stroke-linejoin="miter"/>
<path d="M628.8 1240.75 L640.9 1240.75 L647.1 1247.85 L647.1 1261.65 L628.8 1261.65" fill="none" stroke="#231815" stroke-width="2.7" stroke-linejoin="miter"/>
<path d="M628.8 1279.1 L640.9 1279.1 L647.1 1286.2 L647.1 1300 L628.8 1300" fill="none" stroke="#231815" stroke-width="2.7" stroke-linejoin="miter"/>
<path d="M628.8 1317.45 L640.9 1317.45 L647.1 1324.55 L647.1 1338.35 L628.8 1338.35" fill="none" stroke="#231815" stroke-width="2.7" stroke-linejoin="miter"/>
<path d="M628.8 1355.8 L640.9 1355.8 L647.1 1362.9 L647.1 1376.7 L628.8 1376.7" fill="none" stroke="#231815" stroke-width="2.7" stroke-linejoin="miter"/>
<text x="298" y="1086.5" font-family="'Liberation Serif', 'Noto Serif CJK SC', serif" font-size="19" text-anchor="start" fill="#1a1a1a" id="l1">仪表盘</text>
<text x="371" y="1086.5" font-family="'Liberation Serif', 'Noto Serif CJK SC', serif" font-size="19" text-anchor="start" fill="#1a1a1a" id="l2">安装支架</text>
<text x="540.6" y="1086.5" font-family="'Liberation Serif', 'Noto Serif CJK SC', serif" font-size="19" text-anchor="start" fill="#1a1a1a" id="l3">安装螺丝</text>
<text x="265.4" y="1244" font-family="'Liberation Serif', 'Noto Serif CJK SC', serif" font-size="19" text-anchor="middle" fill="#1a1a1a">前</text>
<text x="265.4" y="1267.6" font-family="'Liberation Serif', 'Noto Serif CJK SC', serif" font-size="19" text-anchor="middle" fill="#1a1a1a">面</text>
<text x="265.4" y="1291.2" font-family="'Liberation Serif', 'Noto Serif CJK SC', serif" font-size="19" text-anchor="middle" fill="#1a1a1a">板</text>
<text x="676.4" y="1357.8" font-family="'Liberation Serif', 'Noto Serif CJK SC', serif" font-size="19" text-anchor="start" fill="#1a1a1a" id="l4">螺丝刀</text>
<text x="668" y="1380.4" font-family="'Liberation Serif', 'Noto Serif CJK SC', serif" font-size="19" text-anchor="start" fill="#1a1a1a" id="l5">（十字）</text>
<line x1="401.8" y1="1090.4" x2="401.8" y2="1160.6" stroke="#231815" stroke-width="1.5"/>
<line x1="576.4" y1="1095.8" x2="462.4" y2="1187.8" stroke="#231815" stroke-width="1.5"/>
<line x1="563.5" y1="1349.8" x2="674.4" y2="1349.8" stroke="#231815" stroke-width="1.5"/>
<path d="M355.6 1186.6 L348.6 1186.6 Q345.8 1186.6 345.8 1190 Q345.8 1193.4 348.6 1193.4 L355.6 1193.4" fill="#fff" stroke="#3a3532" stroke-width="0.9"/>
<path d="M349.5 1186.6 Q347.3 1190 349.5 1193.4" fill="none" stroke="#3a3532" stroke-width="1.1"/>
<path d="M352.3 1186.6 Q350.1 1190 352.3 1193.4" fill="none" stroke="#3a3532" stroke-width="1.1"/>
<path d="M355.1 1186.6 Q352.9 1190 355.1 1193.4" fill="none" stroke="#3a3532" stroke-width="1.1"/>
<path d="M355.6 1163.4 L451.4 1163.4 L451.4 1179.7 L438.6 1179.7 L438.6 1198.8 L451.4 1198.8 L451.4 1215.2 L355.6 1215.2 Z" fill="#f8f8f8" stroke="#3a3532" stroke-width="0.9" stroke-linejoin="miter"/>
<rect x="356.1" y="1184.4" width="82" height="10.9" fill="#fff"/>
<line x1="355.6" y1="1184.4" x2="438.6" y2="1184.4" stroke="#7a7573" stroke-width="0.7"/>
<line x1="355.6" y1="1195.3" x2="438.6" y2="1195.3" stroke="#7a7573" stroke-width="0.7"/>
<rect x="361.4" y="1167.7" width="9.6" height="11.4" fill="none" stroke="#3a3532" stroke-width="0.9"/>
<rect x="361.4" y="1200.1" width="9.6" height="11.4" fill="none" stroke="#3a3532" stroke-width="0.9"/>
<rect x="375.9" y="1168" width="9.7" height="5.5" fill="none" stroke="#3a3532" stroke-width="0.9"/>
<rect x="375.9" y="1205.7" width="9.7" height="5.5" fill="none" stroke="#3a3532" stroke-width="0.9"/>
<rect x="391.4" y="1168" width="8.2" height="8.2" fill="none" stroke="#3a3532" stroke-width="0.9"/>
<rect x="391.4" y="1203" width="8.2" height="8.2" fill="none" stroke="#3a3532" stroke-width="0.9"/>
<rect x="406.4" y="1167.7" width="7.6" height="11.9" fill="none" stroke="#3a3532" stroke-width="0.9"/>
<rect x="406.4" y="1199.6" width="7.6" height="11.9" fill="none" stroke="#3a3532" stroke-width="0.9"/>
<rect x="420.9" y="1167.7" width="7.6" height="11.9" fill="none" stroke="#3a3532" stroke-width="0.9"/>
<rect x="420.9" y="1199.6" width="7.6" height="11.9" fill="none" stroke="#3a3532" stroke-width="0.9"/>
<rect x="435.3" y="1167.7" width="8.2" height="8.5" fill="none" stroke="#3a3532" stroke-width="0.9"/>
<rect x="435.3" y="1203" width="8.2" height="8.5" fill="none" stroke="#3a3532" stroke-width="0.9"/>
<rect x="375.6" y="1180" width="10.4" height="20.2" fill="none" stroke="#3a3532" stroke-width="0.9"/>
<path d="M378.3 1186.6 Q376.1 1190 378.3 1193.4" fill="none" stroke="#3a3532" stroke-width="1.1"/>
<path d="M381.1 1186.6 Q378.9 1190 381.1 1193.4" fill="none" stroke="#3a3532" stroke-width="1.1"/>
<path d="M383.9 1186.6 Q381.7 1190 383.9 1193.4" fill="none" stroke="#3a3532" stroke-width="1.1"/>
<path d="M386.3 1186.6 Q384.1 1190 386.3 1193.4" fill="none" stroke="#3a3532" stroke-width="1.1"/>
<line x1="438.6" y1="1186.6" x2="455.4" y2="1186.6" stroke="#3a3532" stroke-width="0.8"/>
<line x1="438.6" y1="1193.4" x2="455.4" y2="1193.4" stroke="#3a3532" stroke-width="0.8"/>
<path d="M441.3 1186.6 Q439.1 1190 441.3 1193.4" fill="none" stroke="#3a3532" stroke-width="1.1"/>
<path d="M444.1 1186.6 Q441.9 1190 444.1 1193.4" fill="none" stroke="#3a3532" stroke-width="1.1"/>
<path d="M446.9 1186.6 Q444.7 1190 446.9 1193.4" fill="none" stroke="#3a3532" stroke-width="1.1"/>
<path d="M449.7 1186.6 Q447.5 1190 449.7 1193.4" fill="none" stroke="#3a3532" stroke-width="1.1"/>
<path d="M452.5 1186.6 Q450.3 1190 452.5 1193.4" fill="none" stroke="#3a3532" stroke-width="1.1"/>
<path d="M455.1 1186.6 Q452.9 1190 455.1 1193.4" fill="none" stroke="#3a3532" stroke-width="1.1"/>
<path d="M455.4 1183.6 L455.4 1196.4 Q461.4 1195.8 461.4 1190 Q461.4 1184.2 455.4 1183.6 Z" fill="#f8f8f8" stroke="#3a3532" stroke-width="1"/>
<path d="M355.6 1346.8 L348.6 1346.8 Q345.8 1346.8 345.8 1350.2 Q345.8 1353.6 348.6 1353.6 L355.6 1353.6" fill="#fff" stroke="#3a3532" stroke-width="0.9"/>
<path d="M349.5 1346.8 Q347.3 1350.2 349.5 1353.6" fill="none" stroke="#3a3532" stroke-width="1.1"/>
<path d="M352.3 1346.8 Q350.1 1350.2 352.3 1353.6" fill="none" stroke="#3a3532" stroke-width="1.1"/>
<path d="M355.1 1346.8 Q352.9 1350.2 355.1 1353.6" fill="none" stroke="#3a3532" stroke-width="1.1"/>
<path d="M355.6 1323.6 L451.4 1323.6 L451.4 1339.9 L438.6 1339.9 L438.6 1359 L451.4 1359 L451.4 1375.4 L355.6 1375.4 Z" fill="#f8f8f8" stroke="#3a3532" stroke-width="0.9" stroke-linejoin="miter"/>
<rect x="356.1" y="1344.6" width="82" height="10.9" fill="#fff"/>
<line x1="355.6" y1="1344.6" x2="438.6" y2="1344.6" stroke="#7a7573" stroke-width="0.7"/>
<line x1="355.6" y1="1355.5" x2="438.6" y2="1355.5" stroke="#7a7573" stroke-width="0.7"/>
<rect x="361.4" y="1327.9" width="9.6" height="11.4" fill="none" stroke="#3a3532" stroke-width="0.9"/>
<rect x="361.4" y="1360.3" width="9.6" height="11.4" fill="none" stroke="#3a3532" stroke-width="0.9"/>
<rect x="375.9" y="1328.2" width="9.7" height="5.5" fill="none" stroke="#3a3532" stroke-width="0.9"/>
<rect x="375.9" y="1365.9" width="9.7" height="5.5" fill="none" stroke="#3a3532" stroke-width="0.9"/>
<rect x="391.4" y="1328.2" width="8.2" height="8.2" fill="none" stroke="#3a3532" stroke-width="0.9"/>
<rect x="391.4" y="1363.2" width="8.2" height="8.2" fill="none" stroke="#3a3532" stroke-width="0.9"/>
<rect x="406.4" y="1327.9" width="7.6" height="11.9" fill="none" stroke="#3a3532" stroke-width="0.9"/>
<rect x="406.4" y="1359.8" width="7.6" height="11.9" fill="none" stroke="#3a3532" stroke-width="0.9"/>
<rect x="420.9" y="1327.9" width="7.6" height="11.9" fill="none" stroke="#3a3532" stroke-width="0.9"/>
<rect x="420.9" y="1359.8" width="7.6" height="11.9" fill="none" stroke="#3a3532" stroke-width="0.9"/>
<rect x="435.3" y="1327.9" width="8.2" height="8.5" fill="none" stroke="#3a3532" stroke-width="0.9"/>
<rect x="435.3" y="1363.2" width="8.2" height="8.5" fill="none" stroke="#3a3532" stroke-width="0.9"/>
<rect x="375.6" y="1340.2" width="10.4" height="20.2" fill="none" stroke="#3a3532" stroke-width="0.9"/>
<path d="M378.3 1346.8 Q376.1 1350.2 378.3 1353.6" fill="none" stroke="#3a3532" stroke-width="1.1"/>
<path d="M381.1 1346.8 Q378.9 1350.2 381.1 1353.6" fill="none" stroke="#3a3532" stroke-width="1.1"/>
<path d="M383.9 1346.8 Q381.7 1350.2 383.9 1353.6" fill="none" stroke="#3a3532" stroke-width="1.1"/>
<path d="M386.3 1346.8 Q384.1 1350.2 386.3 1353.6" fill="none" stroke="#3a3532" stroke-width="1.1"/>
<line x1="438.6" y1="1346.8" x2="455.4" y2="1346.8" stroke="#3a3532" stroke-width="0.8"/>
<line x1="438.6" y1="1353.6" x2="455.4" y2="1353.6" stroke="#3a3532" stroke-width="0.8"/>
<path d="M441.3 1346.8 Q439.1 1350.2 441.3 1353.6" fill="none" stroke="#3a3532" stroke-width="1.1"/>
<path d="M444.1 1346.8 Q441.9 1350.2 444.1 1353.6" fill="none" stroke="#3a3532" stroke-width="1.1"/>
<path d="M446.9 1346.8 Q444.7 1350.2 446.9 1353.6" fill="none" stroke="#3a3532" stroke-width="1.1"/>
<path d="M449.7 1346.8 Q447.5 1350.2 449.7 1353.6" fill="none" stroke="#3a3532" stroke-width="1.1"/>
<path d="M452.5 1346.8 Q450.3 1350.2 452.5 1353.6" fill="none" stroke="#3a3532" stroke-width="1.1"/>
<path d="M455.1 1346.8 Q452.9 1350.2 455.1 1353.6" fill="none" stroke="#3a3532" stroke-width="1.1"/>
<path d="M455.4 1343.8 L455.4 1356.6 Q461.4 1356 461.4 1350.2 Q461.4 1344.4 455.4 1343.8 Z" fill="#f8f8f8" stroke="#3a3532" stroke-width="1"/>
<rect x="473.4" y="1347" width="48.6" height="5.9" rx="2.95" fill="#fff" stroke="#3a3532" stroke-width="0.9"/>
<rect x="520.2" y="1343.6" width="40.8" height="12" rx="6" fill="#c9c9c9" stroke="#3a3532" stroke-width="1"/>
</svg>
</body>
</html>
